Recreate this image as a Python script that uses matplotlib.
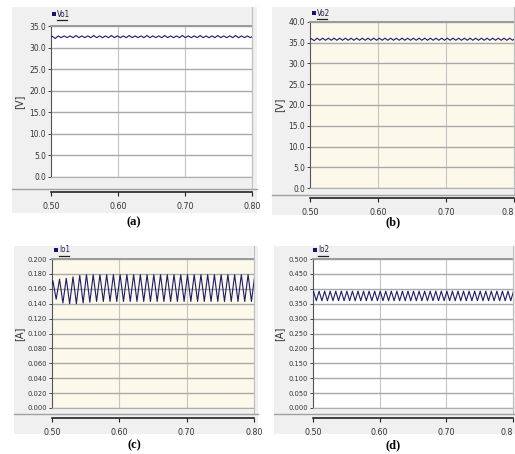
import numpy as np
import matplotlib
matplotlib.use("Agg")
import matplotlib.pyplot as plt
from matplotlib.patches import Rectangle
from matplotlib.lines import Line2D

# ---------------- data ----------------
x_ticks = [0.50, 0.60, 0.70, 0.80]
x_ticklabels_full = ["0.50", "0.60", "0.70", "0.80"]
x_ticklabels_cut = ["0.50", "0.60", "0.70", "0.8"]

# (a) Vo1 [V]
vo1_yticks = [0.0, 5.0, 10.0, 15.0, 20.0, 25.0, 30.0, 35.0]
vo1_start = 32.5
vo1_period = 0.3 / 34
vo1_phase = 0.002
vo1_peaks = [32.6, 32.7, 32.7, 32.7, 32.8, 32.7, 32.7, 32.8, 32.7, 32.7, 32.8, 32.7,
             32.7, 32.8, 32.7, 32.7, 32.8, 32.7, 32.7, 32.8, 32.7, 32.7, 32.8, 32.7,
             32.7, 32.8, 32.7, 32.7, 32.8, 32.7, 32.7, 32.8, 32.7, 32.7, 32.7]
vo1_troughs = [32.1, 32.3, 32.3, 32.3, 32.3, 32.3, 32.3, 32.3, 32.3, 32.3, 32.3, 32.3,
               32.3, 32.3, 32.3, 32.3, 32.3, 32.3, 32.3, 32.3, 32.3, 32.3, 32.3, 32.3,
               32.3, 32.3, 32.3, 32.3, 32.3, 32.3, 32.3, 32.3, 32.3, 32.3]

# (b) Vo2 [V]
vo2_yticks = [0.0, 5.0, 10.0, 15.0, 20.0, 25.0, 30.0, 35.0, 40.0]
vo2_start = 35.8
vo2_period = 0.3 / 36
vo2_phase = 0.002
vo2_peaks = [36.0, 36.1, 36.1, 36.1, 36.1, 36.1, 36.1, 36.1, 36.1, 36.1, 36.1, 36.1,
             36.1, 36.1, 36.1, 36.1, 36.1, 36.1, 36.1, 36.1, 36.1, 36.1, 36.1, 36.1,
             36.1, 36.1, 36.1, 36.1, 36.1, 36.1, 36.1, 36.1, 36.1, 36.1, 36.1, 36.1, 36.1]
vo2_troughs = [35.5, 35.6, 35.6, 35.6, 35.6, 35.6, 35.6, 35.6, 35.6, 35.6, 35.6, 35.6,
               35.6, 35.6, 35.6, 35.6, 35.6, 35.6, 35.6, 35.6, 35.6, 35.6, 35.6, 35.6,
               35.6, 35.6, 35.6, 35.6, 35.6, 35.6, 35.6, 35.6, 35.6, 35.6, 35.6, 35.6]

# (c) Io1 [A]
io1_yticks = [0.000, 0.020, 0.040, 0.060, 0.080, 0.100, 0.120, 0.140, 0.160, 0.180, 0.200]
io1_start = 0.166
io1_period = 0.0100
io1_phase = 0.0012
io1_peaks = [0.171, 0.173, 0.174, 0.176, 0.178, 0.179, 0.179, 0.179, 0.179, 0.179, 0.179,
             0.179, 0.179, 0.179, 0.179, 0.179, 0.179, 0.179, 0.179, 0.179, 0.179,
             0.179, 0.179, 0.179, 0.179, 0.179, 0.179, 0.179, 0.179, 0.179, 0.179]
io1_troughs = [0.146, 0.141, 0.140, 0.140, 0.141, 0.142, 0.143, 0.143, 0.143, 0.143,
               0.143, 0.143, 0.143, 0.143, 0.143, 0.143, 0.143, 0.143, 0.143, 0.143,
               0.143, 0.143, 0.143, 0.143, 0.143, 0.143, 0.143, 0.143, 0.143, 0.143]

# (d) Io2 [A]
io2_yticks = [0.000, 0.050, 0.100, 0.150, 0.200, 0.250, 0.300, 0.350, 0.400, 0.450, 0.500]
io2_start = 0.388
io2_period = 0.3 / 36
io2_phase = 0.0008
io2_peaks = [0.391, 0.392, 0.392, 0.392, 0.392, 0.392, 0.392, 0.392, 0.392, 0.392,
             0.392, 0.392, 0.392, 0.392, 0.392, 0.392, 0.392, 0.392, 0.392, 0.392,
             0.392, 0.392, 0.392, 0.392, 0.392, 0.392, 0.392, 0.392, 0.392, 0.392,
             0.392, 0.392, 0.392, 0.392, 0.392, 0.392, 0.392]
io2_troughs = [0.360, 0.360, 0.360, 0.360, 0.360, 0.360, 0.360, 0.360, 0.360, 0.360,
               0.360, 0.360, 0.360, 0.360, 0.360, 0.360, 0.360, 0.360, 0.360, 0.360,
               0.360, 0.360, 0.360, 0.360, 0.360, 0.360, 0.360, 0.360, 0.360, 0.360,
               0.360, 0.360, 0.360, 0.360, 0.360, 0.360]

# ---------------- figure ----------------
W, H = 515, 454
fig = plt.figure(figsize=(W / 100, H / 100), dpi=100)
fig.patch.set_facecolor("white")

NARROW = ["DejaVu Sans"]
PANEL_BG = "#f0f0f0"
LINE_C = "#1b1b6b"
TXT = dict(family=NARROW, stretch="condensed")


def fx(x):
    return x / W


def fy(y):
    return 1 - y / H


def vertices(start, peaks, troughs, phase, period):
    t = [0.5]
    v = [start]
    for k in range(len(peaks)):
        t.append(0.5 + phase + k * period)
        v.append(peaks[k])
        if k < len(troughs):
            t.append(0.5 + phase + (k + 0.5) * period)
            v.append(troughs[k])
    return np.array(t), np.array(v)


def panel(box, plot, sep_y, axis_y, yticks, fmt, ylabel, ylabel_x, legend_name,
          legend_xy, plot_bg, series, xlabels, letter, letter_xy, ylab_fs, cut_last):
    px0, py0, px1, py1 = box
    fig.add_artist(Rectangle((fx(px0), fy(py1)), fx(px1 - px0), (py1 - py0) / H,
                             transform=fig.transFigure, facecolor=PANEL_BG,
                             edgecolor="none", zorder=0))
    ax0, ay0, ax1, ay1 = plot
    ax = fig.add_axes([fx(ax0), fy(ay1), fx(ax1 - ax0), (ay1 - ay0) / H])
    ax.set_facecolor(plot_bg)
    t, v = vertices(*series)
    ax.plot(t, v, color=LINE_C, lw=0.8, zorder=3)
    ax.set_xlim(0.5, 0.8)
    ax.set_ylim(yticks[0], yticks[-1])
    ax.set_yticks(yticks)
    ax.set_yticklabels([fmt.format(y) for y in yticks], fontsize=ylab_fs,
                       color="#333333", **TXT)
    ax.set_xticks([0.6, 0.7])
    ax.tick_params(axis="x", length=0, labelbottom=False)
    ax.tick_params(axis="y", direction="out", length=2.5, width=0.7,
                   color="#444444", pad=1)
    ax.grid(axis="y", color="#a8a8a8", lw=1.0)
    ax.grid(axis="x", color="#c4c4c4", lw=0.8)
    ax.set_axisbelow(True)
    ax.spines["top"].set_color("#9a9a9a")
    ax.spines["top"].set_linewidth(1.4)
    ax.spines["right"].set_color("#b8b8b8")
    ax.spines["right"].set_linewidth(0.8)
    ax.spines["left"].set_color("#555555")
    ax.spines["left"].set_linewidth(0.8)
    ax.spines["bottom"].set_color("#b0b0b0")
    ax.spines["bottom"].set_linewidth(0.8)
    fig.add_artist(Line2D([fx(ax1), fx(ax1)], [fy(py0), fy(sep_y)],
                          transform=fig.transFigure, color="#c0c0c0", lw=0.8, zorder=1))
    fig.add_artist(Line2D([fx(px0), fx(px1)], [fy(sep_y), fy(sep_y)],
                          transform=fig.transFigure, color="#a0a0a0", lw=1.0, zorder=1))
    xa = fig.add_axes([fx(ax0), fy(axis_y), fx(ax1 - ax0), 0.0001])
    xa.patch.set_visible(False)
    for s in ["top", "left", "right"]:
        xa.spines[s].set_visible(False)
    xa.spines["bottom"].set_color("#222222")
    xa.spines["bottom"].set_linewidth(1.2)
    xa.set_xlim(0.5, 0.8)
    xa.set_yticks([])
    xa.set_xticks(x_ticks)
    labs = xa.set_xticklabels(xlabels, fontsize=6.3, color="#333333", **TXT)
    if cut_last:
        labs[-1].set_horizontalalignment("right")
    xa.tick_params(axis="x", direction="out", length=3, width=0.8, color="#222222", pad=4)
    fig.text(fx(ylabel_x), fy((ay0 + ay1) / 2), ylabel, rotation=90, ha="center",
             va="center", fontsize=7, family=["DejaVu Sans"], color="#333333")
    lx, ly = legend_xy
    fig.add_artist(Rectangle((fx(lx), fy(ly + 1.5)), fx(3.5), 3.5 / H,
                             transform=fig.transFigure, facecolor="#14146e",
                             edgecolor="none", zorder=5))
    fig.text(fx(lx + 5), fy(ly), legend_name, ha="left", va="center", fontsize=5.8,
             color="#222244", **TXT)
    fig.add_artist(Line2D([fx(lx + 5), fx(lx + 15)], [fy(ly + 5.5), fy(ly + 5.5)],
                          transform=fig.transFigure, color="#222222", lw=0.9, zorder=5))
    fig.text(fx(letter_xy[0]), fy(letter_xy[1]), letter, ha="center", va="center",
             fontsize=9, fontweight="bold", family=["Liberation Serif", "DejaVu Serif"])


CREAM = "#fdf9ea"

panel((12, 7, 257, 213), (51, 26, 252, 177), 189, 192, vo1_yticks, "{:.1f}", "[V]", 19,
      "Vo1", (52, 14.5), "white",
      (vo1_start, vo1_peaks, vo1_troughs, vo1_phase, vo1_period),
      x_ticklabels_full, "(a)", (134, 222), 6.0, False)

panel((272, 7, 515, 215), (310, 22, 514, 188), 195, 198, vo2_yticks, "{:.1f}", "[V]", 279,
      "Vo2", (312, 13), CREAM,
      (vo2_start, vo2_peaks, vo2_troughs, vo2_phase, vo2_period),
      x_ticklabels_cut, "(b)", (393, 222), 6.0, True)

panel((14, 246, 258, 434), (52, 259, 254, 408), 414, 418, io1_yticks, "{:.3f}", "[A]", 19,
      "Io1", (54, 250), CREAM,
      (io1_start, io1_peaks, io1_troughs, io1_phase, io1_period),
      x_ticklabels_full, "(c)", (134, 445), 5.3, False)

panel((274, 246, 515, 434), (313, 259, 513, 408), 414, 418, io2_yticks, "{:.3f}", "[A]", 279,
      "Io2", (313, 250), "white",
      (io2_start, io2_peaks, io2_troughs, io2_phase, io2_period),
      x_ticklabels_cut, "(d)", (393, 445), 5.3, True)

fig.savefig("out.png", dpi=100)
